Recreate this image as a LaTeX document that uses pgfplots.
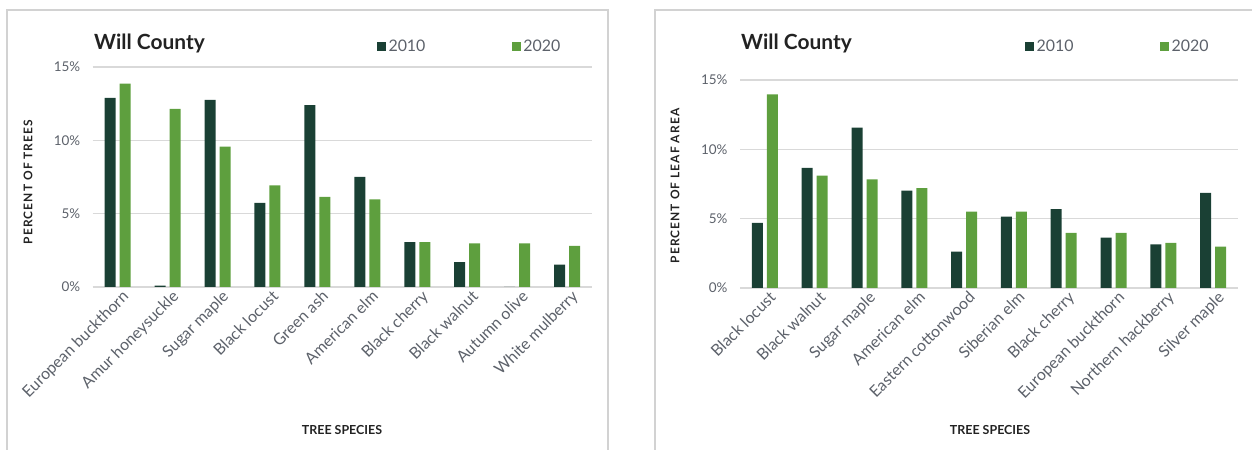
\documentclass[border=0pt]{standalone}
\usepackage{pgfplots}
\pgfplotsset{compat=1.18}
\usepackage{fontspec}
\setmainfont{Lato}
\newfontfamily\spaced[LetterSpace=9]{Lato}

\definecolor{darkgreen}{HTML}{1A4034}
\definecolor{lightgreen}{HTML}{5E9F3E}
\definecolor{gridgray}{HTML}{D9D9D9}
\definecolor{framegray}{HTML}{D2D2D2}
\definecolor{ticktext}{HTML}{5C616A}
\definecolor{labeltext}{HTML}{222222}

% Percent of trees by species
\pgfplotstableread{
x y2010 y2020
0 12.9 13.86
1 0.1 12.15
2 12.76 9.57
3 5.73 6.92
4 12.4 6.14
5 7.51 5.98
6 3.06 3.06
7 1.69 2.97
8 0 2.97
9 1.53 2.81
}\treesdata

% Percent of leaf area by species
\pgfplotstableread{
x y2010 y2020
0 4.70 13.97
1 8.67 8.11
2 11.56 7.83
3 7.03 7.20
4 2.62 5.51
5 5.15 5.51
6 5.68 3.97
7 3.64 3.97
8 3.15 3.25
9 6.86 2.99
}\leafdata

\pgfplotsset{
  countychart/.style={
    scale only axis,
    anchor=south west,
    ybar=4bp,
    bar width=11bp,
    xmin=-0.5, xmax=9.5,
    ymin=0, ymax=15,
    ytick={0,5,10,15},
    yticklabel={\pgfmathprintnumber{\tick}\%},
    xtick=data,
    major tick length=0pt,
    axis line style={draw=none},
    ymajorgrids,
    grid style={gridgray, line width=1.3bp},
    yticklabel style={font=\fontsize{13.5}{13.5}\selectfont, text=ticktext, xshift=-9bp},
    xticklabel style={font=\fontsize{16}{16}\selectfont, text=ticktext, rotate=45, anchor=north east, inner sep=1bp, yshift=-3bp, xshift=2bp},
    /pgf/number format/assume math mode=true,
    legend columns=2,
    legend style={draw=none, fill=none, inner sep=0pt, anchor=west,
      font=\fontsize{16}{16}\selectfont, text=ticktext,
      nodes={inner sep=2.5bp},
      /tikz/every even column/.append style={column sep=84bp}},
    legend image code/.code={\fill[##1] (0bp,-4.5bp) rectangle (9bp,4.5bp);},
  },
}

\begin{document}
\begin{tikzpicture}[x=1bp, y=1bp]
\useasboundingbox (0,0) rectangle (1252,450);
% panel frames
\draw[framegray, line width=1.6bp] (7,-5) rectangle (608,440);
\draw[framegray, line width=1.6bp] (655,-5) rectangle (1270,440);

% left panel: percent of trees
\begin{axis}[countychart,
  at={(92.7bp,163bp)}, width=499.3bp, height=220bp,
  xticklabels={European buckthorn, Amur honeysuckle, Sugar maple, Black locust, Green ash, American elm, Black cherry, Black walnut, Autumn olive, White mulberry},
  legend style={at={(0.569,1.091)}},
]
\addplot[fill=darkgreen, draw=none] table[x=x, y=y2010] {\treesdata};
\addplot[fill=lightgreen, draw=none] table[x=x, y=y2020] {\treesdata};
\legend{2010, 2020}
\end{axis}

% right panel: percent of leaf area
\begin{axis}[countychart,
  at={(740bp,162bp)}, width=498bp, height=208bp,
  xticklabels={Black locust, Black walnut, Sugar maple, American elm, Eastern cottonwood, Siberian elm, Black cherry, European buckthorn, Northern hackberry, Silver maple},
  legend style={at={(0.572,1.159)}},
]
\addplot[fill=darkgreen, draw=none] table[x=x, y=y2010] {\leafdata};
\addplot[fill=lightgreen, draw=none] table[x=x, y=y2020] {\leafdata};
\legend{2010, 2020}
\end{axis}

% titles and axis labels
\node[anchor=base west, inner sep=0, font=\bfseries\fontsize{21}{21}\selectfont, text=labeltext] at (94,400) {Will County};
\node[anchor=base west, inner sep=0, font=\bfseries\fontsize{21}{21}\selectfont, text=labeltext] at (741,400) {Will County};
\node[rotate=90, inner sep=0, font=\spaced\bfseries\fontsize{12}{12}\selectfont, text=labeltext] at (28,268) {PERCENT OF TREES};
\node[rotate=90, inner sep=0, font=\spaced\bfseries\fontsize{12}{12}\selectfont, text=labeltext] at (675,264) {PERCENT OF LEAF AREA};
\node[inner sep=0, font=\bfseries\fontsize{12.5}{12.5}\selectfont, text=labeltext] at (342,20) {TREE SPECIES};
\node[inner sep=0, font=\bfseries\fontsize{12.5}{12.5}\selectfont, text=labeltext] at (990,20) {TREE SPECIES};
\end{tikzpicture}
\end{document}
